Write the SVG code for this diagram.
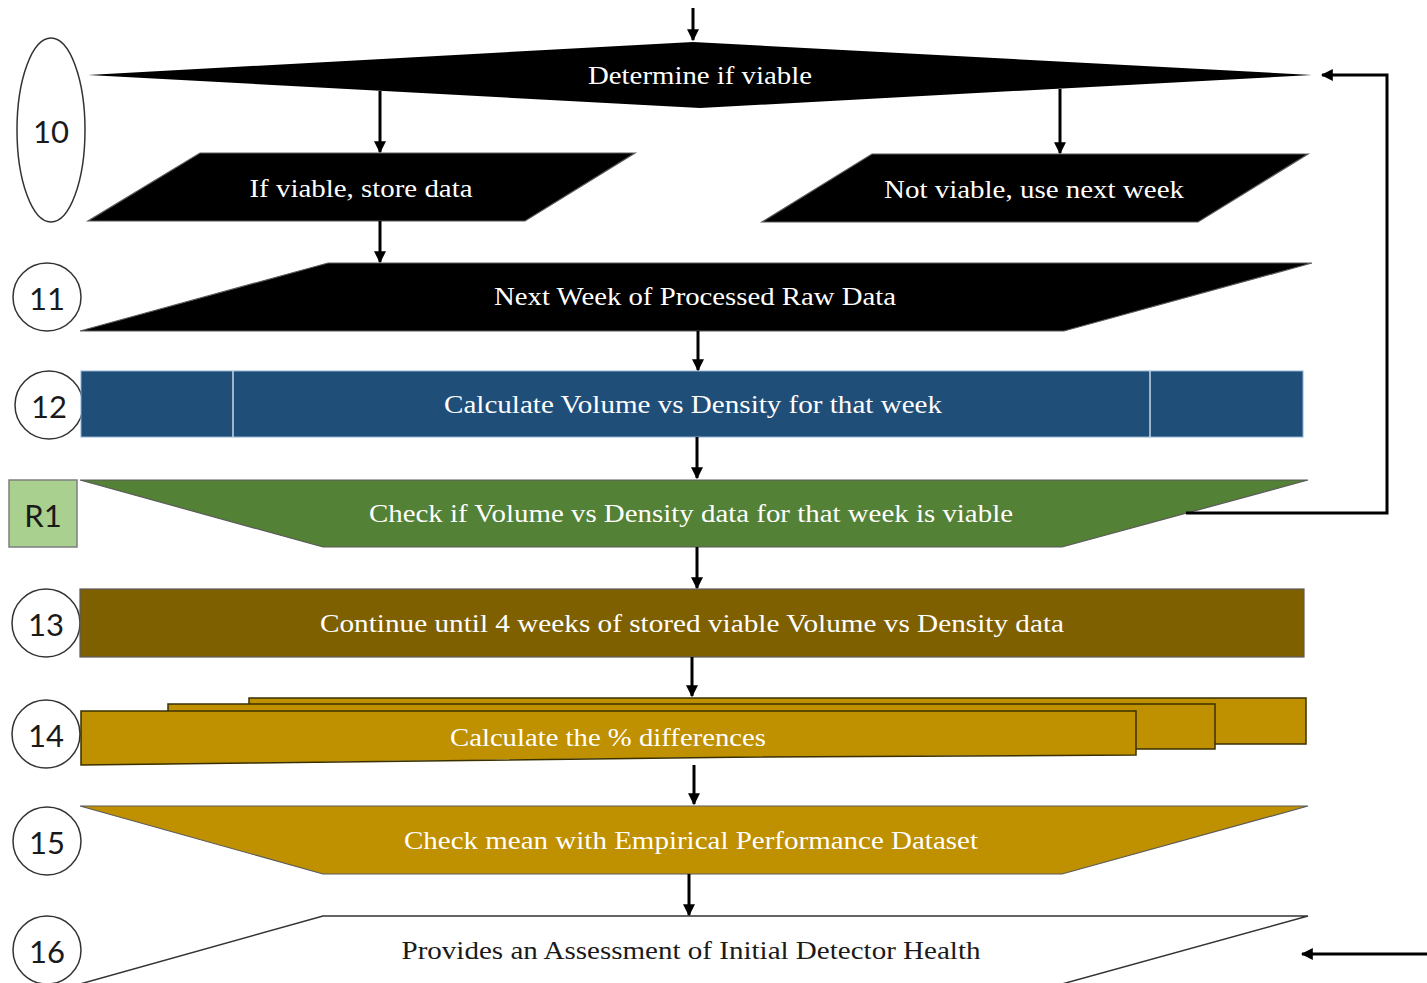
<svg xmlns="http://www.w3.org/2000/svg" width="1427" height="983" viewBox="0 0 1427 983">
  <style>
    .lbl { font-family: "Liberation Serif", "DejaVu Serif", serif; font-size: 26px; text-anchor: middle; dominant-baseline: central; fill: #ffffff; }
    .lbl-dark { fill: #1a1a1a; }
    .num { font-family: Lato, "Liberation Sans", sans-serif; font-size: 31px; text-anchor: middle; dominant-baseline: central; fill: #1a1a1a; }
    .badge { fill: #ffffff; stroke: #333333; stroke-width: 1.5; }
    .conn { fill: none; stroke: #000000; stroke-width: 3; }
    .edge { stroke: #5a5a5a; stroke-width: 1.2; }
  </style>
  <defs>
    <marker id="arrow" viewBox="0 0 10 10" refX="9" refY="5" markerWidth="4" markerHeight="4" orient="auto" markerUnits="strokeWidth">
      <path d="M0,0 L10,5 L0,10 z" fill="#000000"/>
    </marker>
  </defs>

  <rect width="1427" height="983" fill="#ffffff"/>

  <!-- step badges -->
  <g id="badge-10"><ellipse class="badge" cx="51" cy="130" rx="34" ry="92"/><text class="num" x="51" y="131">10</text></g>
  <g id="badge-11"><circle class="badge" cx="47" cy="297" r="34"/><text class="num" x="47" y="298">11</text></g>
  <g id="badge-12"><circle class="badge" cx="49" cy="405" r="34"/><text class="num" x="49" y="406">12</text></g>
  <g id="badge-R1"><rect x="9" y="480" width="68" height="67" fill="#a9d08e" stroke="#7f7f7f" stroke-width="1.5"/><text class="num" x="43" y="515">R1</text></g>
  <g id="badge-13"><circle class="badge" cx="46" cy="623" r="34"/><text class="num" x="46" y="624">13</text></g>
  <g id="badge-14"><circle class="badge" cx="46" cy="734" r="34"/><text class="num" x="46" y="735">14</text></g>
  <g id="badge-15"><circle class="badge" cx="47" cy="841" r="34"/><text class="num" x="47" y="842">15</text></g>
  <g id="badge-16"><circle class="badge" cx="47" cy="950" r="34"/><text class="num" x="47" y="951">16</text></g>

  <!-- process shapes -->
  <g id="determine-viable">
    <polygon points="88,75 693,42 1312,75 700,108" fill="#000000"/>
    <text class="lbl" x="700" y="75" textLength="224" lengthAdjust="spacingAndGlyphs">Determine if viable</text>
  </g>

  <g id="store-data">
    <polygon class="edge" points="200,153 635,153 525,221 88,221" fill="#000000"/>
    <text class="lbl" x="361" y="188" textLength="223" lengthAdjust="spacingAndGlyphs">If viable, store data</text>
  </g>

  <g id="next-week-skip">
    <polygon class="edge" points="872,154 1308,154 1198,222 762,222" fill="#000000"/>
    <text class="lbl" x="1034" y="189" textLength="300" lengthAdjust="spacingAndGlyphs">Not viable, use next week</text>
  </g>

  <g id="next-week-raw">
    <polygon class="edge" points="328,263 1312,263 1064,331 80,331" fill="#000000"/>
    <text class="lbl" x="695" y="296" textLength="402" lengthAdjust="spacingAndGlyphs">Next Week of Processed Raw Data</text>
  </g>

  <g id="calc-volume-density">
    <rect x="81" y="371" width="1222" height="66" fill="#1f4e79" stroke="#8fb0d0" stroke-width="1"/>
    <line x1="233" y1="371" x2="233" y2="437" stroke="#c9d8e8" stroke-width="1.5"/>
    <line x1="1150" y1="371" x2="1150" y2="437" stroke="#c9d8e8" stroke-width="1.5"/>
    <text class="lbl" x="693" y="404" textLength="498" lengthAdjust="spacingAndGlyphs">Calculate Volume vs Density for that week</text>
  </g>

  <g id="check-viable">
    <polygon class="edge" points="80,480 1308,480 1062,547 323,547" fill="#538135"/>
    <text class="lbl" x="691" y="513" textLength="644" lengthAdjust="spacingAndGlyphs">Check if Volume vs Density data for that week is viable</text>
  </g>

  <g id="continue-four-weeks">
    <rect class="edge" x="80" y="589" width="1224" height="68" fill="#7f6000"/>
    <text class="lbl" x="692" y="623" textLength="744" lengthAdjust="spacingAndGlyphs">Continue until 4 weeks of stored viable Volume vs Density data</text>
  </g>

  <g id="percent-differences">
    <rect x="249" y="698" width="1057" height="46" fill="#bf9000" stroke="#3a3000" stroke-width="1.5"/>
    <rect x="168" y="704" width="1047" height="45" fill="#bf9000" stroke="#3a3000" stroke-width="1.5"/>
    <path d="M81,711 L1136,711 L1136,755 C900,755 400,760 250,763 C180,764 120,765 81,765 Z" fill="#bf9000" stroke="#3a3000" stroke-width="1.5"/>
    <text class="lbl" x="608" y="737" textLength="316" lengthAdjust="spacingAndGlyphs">Calculate the % differences</text>
  </g>

  <g id="check-mean">
    <polygon class="edge" points="80,806 1308,806 1062,874 323,874" fill="#bf9000"/>
    <text class="lbl" x="691" y="840" textLength="574" lengthAdjust="spacingAndGlyphs">Check mean with Empirical  Performance Dataset</text>
  </g>

  <g id="assessment">
    <polygon points="323,916 1308,916 1062,984 80,984" fill="#ffffff" stroke="#333333" stroke-width="1.5"/>
    <text class="lbl lbl-dark" x="691" y="950" textLength="579" lengthAdjust="spacingAndGlyphs">Provides an Assessment of Initial Detector Health</text>
  </g>

  <!-- connectors -->
  <g id="connectors">
    <line class="conn" x1="693" y1="8" x2="693" y2="40" marker-end="url(#arrow)"/>
    <line class="conn" x1="380" y1="91" x2="380" y2="152" marker-end="url(#arrow)"/>
    <line class="conn" x1="1060" y1="89" x2="1060" y2="153" marker-end="url(#arrow)"/>
    <line class="conn" x1="380" y1="221" x2="380" y2="262" marker-end="url(#arrow)"/>
    <line class="conn" x1="698" y1="331" x2="698" y2="370" marker-end="url(#arrow)"/>
    <line class="conn" x1="697" y1="437" x2="697" y2="478" marker-end="url(#arrow)"/>
    <polyline class="conn" points="1186,513 1387,513 1387,75 1322,75" marker-end="url(#arrow)"/>
    <line class="conn" x1="697" y1="547" x2="697" y2="588" marker-end="url(#arrow)"/>
    <line class="conn" x1="692" y1="657" x2="692" y2="696" marker-end="url(#arrow)"/>
    <line class="conn" x1="694" y1="765" x2="694" y2="804" marker-end="url(#arrow)"/>
    <line class="conn" x1="689" y1="874" x2="689" y2="915" marker-end="url(#arrow)"/>
    <line class="conn" x1="1427" y1="954" x2="1302" y2="954" marker-end="url(#arrow)"/>
  </g>
</svg>
